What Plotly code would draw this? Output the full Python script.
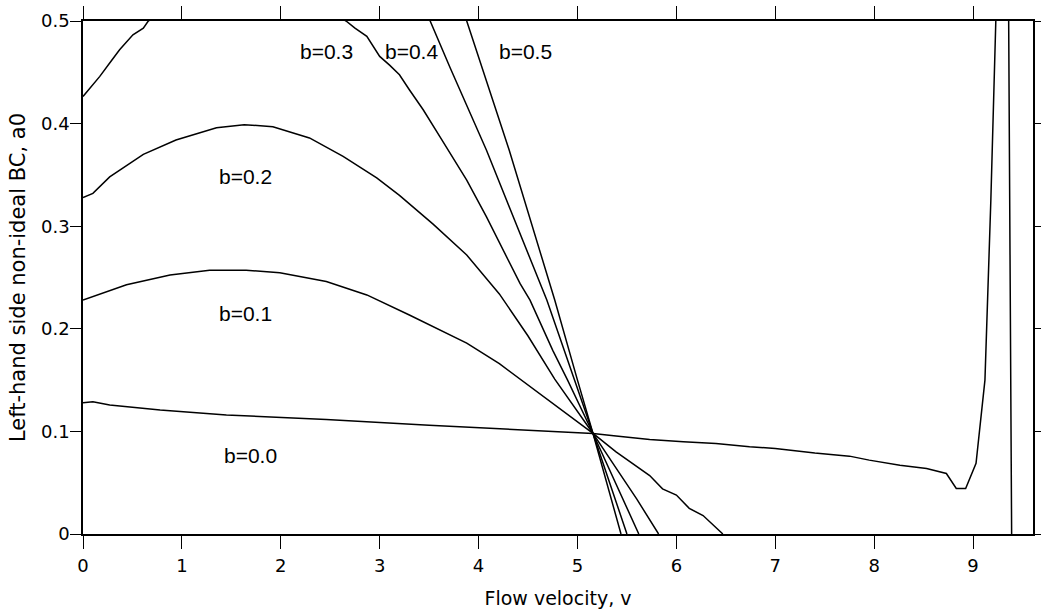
import plotly.graph_objects as go

# ---- data ----
v_b00 = [0, 0.10, 0.27, 0.78, 1.45, 2.46, 3.5, 4.72, 5.157, 5.39, 5.73, 6.07, 6.40, 6.74,
         7.0, 7.4, 7.75, 7.95, 8.26, 8.53, 8.73, 8.83, 8.925, 9.03, 9.08, 9.12, 9.18, 9.23,
         9.30, 9.45]
a_b00 = [0.128, 0.129, 0.1257, 0.1208, 0.116, 0.1117, 0.106, 0.0996, 0.098, 0.0954, 0.092,
         0.0899, 0.0883, 0.085, 0.0834, 0.079, 0.0759, 0.072, 0.067, 0.0639, 0.059, 0.0444,
         0.0444, 0.0688, 0.111, 0.150, 0.326, 0.5, 1.5, -1.0]

v_b01 = [0, 0.44, 0.88, 1.28, 1.65, 1.99, 2.46, 2.87, 3.30, 3.54, 3.88, 4.21, 4.69, 5.157,
         5.39, 5.60, 5.73, 5.86, 6.0, 6.13, 6.27, 6.47]
a_b01 = [0.228, 0.243, 0.2525, 0.257, 0.257, 0.2547, 0.246, 0.233, 0.2135, 0.202, 0.186,
         0.166, 0.132, 0.098, 0.080, 0.0655, 0.057, 0.044, 0.038, 0.025, 0.018, 0.0]

v_b02 = [0, 0.10, 0.27, 0.61, 0.94, 1.35, 1.63, 1.92, 2.29, 2.63, 2.97, 3.20, 3.54, 3.88,
         4.21, 4.50, 4.77, 5.157, 5.35, 5.6, 5.82]
a_b02 = [0.328, 0.332, 0.348, 0.370, 0.384, 0.396, 0.399, 0.397, 0.386, 0.368, 0.347, 0.330,
         0.302, 0.272, 0.234, 0.193, 0.151, 0.098, 0.070, 0.034, 0.0]

v_b03 = [0, 0.17, 0.27, 0.37, 0.505, 0.61, 0.66, 1.0, 1.6, 2.2, 2.66, 2.75, 2.87, 3.0, 3.10,
         3.20, 3.30, 3.44, 3.61, 3.88, 4.08, 4.42, 4.52, 4.75, 4.90, 5.157, 5.62]
a_b03 = [0.4265, 0.446, 0.459, 0.472, 0.4866, 0.493, 0.5, 0.52, 0.535, 0.525, 0.5, 0.493,
         0.485, 0.4655, 0.457, 0.4476, 0.433, 0.4135, 0.387, 0.345, 0.309, 0.244, 0.228,
         0.179, 0.150, 0.098, 0.0]

v_b04 = [3.2, 3.51, 3.71, 4.08, 4.69, 4.97, 5.157, 5.50]
a_b04 = [0.57, 0.5, 0.455, 0.374, 0.228, 0.150, 0.098, 0.0]

v_b05 = [3.6, 3.88, 4.31, 4.77, 5.00, 5.157, 5.44]
a_b05 = [0.59, 0.5, 0.374, 0.228, 0.150, 0.098, 0.0]

series = [("b=0.0", v_b00, a_b00), ("b=0.1", v_b01, a_b01), ("b=0.2", v_b02, a_b02),
          ("b=0.3", v_b03, a_b03), ("b=0.4", v_b04, a_b04), ("b=0.5", v_b05, a_b05)]

label_text = ["b=0.0", "b=0.1", "b=0.2", "b=0.3", "b=0.4", "b=0.5"]
label_v = [1.69, 1.64, 1.64, 2.46, 3.32, 4.47]
label_a = [0.077, 0.215, 0.348, 0.470, 0.470, 0.470]

x_ticks = [0, 1, 2, 3, 4, 5, 6, 7, 8, 9]
y_ticks = [0, 0.1, 0.2, 0.3, 0.4, 0.5]
y_ticktext = ["0", "0.1", "0.2", "0.3", "0.4", "0.5"]

FONT = "DejaVu Sans"
LABEL_FONT = "Liberation Sans"

fig = go.Figure()
for name, v, a in series:
    fig.add_trace(go.Scatter(x=v, y=a, mode="lines", name=name,
                             line=dict(color="black", width=1.5), showlegend=False))

for t, x, y in zip(label_text, label_v, label_a):
    fig.add_annotation(x=x, y=y, text=t, showarrow=False,
                       font=dict(family=LABEL_FONT, size=21, color="black"))

axis_common = dict(showline=True, linecolor="black", linewidth=1.5, mirror="ticks",
                   ticks="outside", tickwidth=1.2, tickcolor="black",
                   showgrid=False, zeroline=False, automargin=False,
                   tickfont=dict(family=FONT, size=18, color="black"))

fig.update_xaxes(range=[0, 9.606], tickvals=x_ticks, ticklen=13, ticklabelstandoff=2,
                 title=dict(text="Flow velocity, v", font=dict(family=FONT, size=19, color="black"),
                            standoff=16),
                 **axis_common)
fig.update_yaxes(range=[0, 0.5], tickvals=y_ticks, ticktext=y_ticktext, ticklen=11,
                 ticklabelstandoff=-3,
                 title=dict(text="Left-hand side non-ideal BC, a0",
                            font=dict(family=FONT, size=21, color="black"), standoff=10),
                 **axis_common)

fig.update_layout(width=1041, height=614, margin=dict(l=83, r=8, t=21, b=80),
                  plot_bgcolor="white", paper_bgcolor="white")

fig.write_html("out.html")
